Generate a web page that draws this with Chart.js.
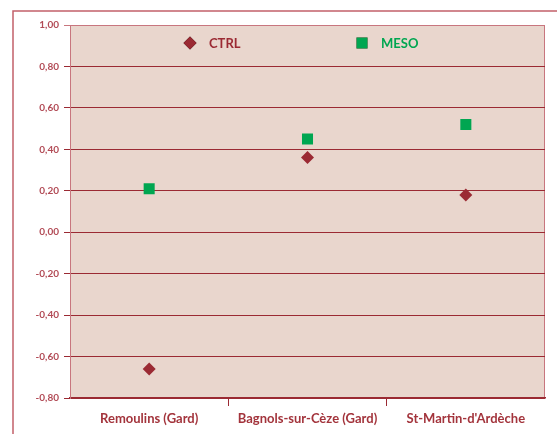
<!DOCTYPE html>
<html>
<head>
<meta charset="utf-8">
<script src="https://cdn.jsdelivr.net/npm/chart.js@4/dist/chart.umd.min.js"></script>
<style>
  html, body { margin: 0; padding: 0; background: #fff; }
  #wrap { width: 557px; height: 434px; }
</style>
</head>
<body>
<div id="wrap"><canvas id="myChart" width="557" height="434"></canvas></div>
<script>
// Data
const sites = ['Remoulins (Gard)', 'Bagnols-sur-Cèze (Gard)', "St-Martin-d'Ardèche"];
const ctrlValues = [-0.66, 0.36, 0.18];
const mesoValues = [0.21, 0.45, 0.52];
const yTicks = [-0.8, -0.6, -0.4, -0.2, 0, 0.2, 0.4, 0.6, 0.8, 1.0];

// Colours
const darkRed = '#9b2a33';
const green = '#00a651';
const plotBg = '#e9d6cd';
const frame = '#c2606a';
const clear = 'rgba(0,0,0,0)';

// Plot background, outer frame and legend inside the plot
const decor = {
    id: 'decor',
    beforeDraw(chart) {
        const ctx = chart.ctx;
        const a = chart.chartArea;
        ctx.save();
        ctx.fillStyle = plotBg;
        ctx.fillRect(a.left, a.top, a.right - a.left, a.bottom - a.top);
        ctx.strokeStyle = frame;
        ctx.lineWidth = 1.5;
        ctx.beginPath();
        ctx.moveTo(13, 440);
        ctx.lineTo(13, 11);
        ctx.lineTo(560, 11);
        ctx.stroke();
        ctx.lineWidth = 1;
        ctx.strokeStyle = '#c8767e';
        ctx.beginPath();
        ctx.moveTo(a.right - 0.5, a.top);
        ctx.lineTo(a.right - 0.5, a.bottom);
        ctx.stroke();
        ctx.restore();
    },
    afterDraw(chart) {
        const ctx = chart.ctx;
        const a = chart.chartArea;
        const y = a.top + 18;
        const items = [
            { ds: 0, x: a.left + 120, color: darkRed },
            { ds: 1, x: a.left + 292, color: green }
        ];
        ctx.save();
        items.forEach(it => {
            const d = chart.data.datasets[it.ds];
            Chart.helpers.drawPoint(ctx, {
                pointStyle: d.pointStyle,
                radius: d.pointRadius,
                rotation: 0,
                borderWidth: 0
            }, it.x, y);
            ctx.fillStyle = it.color;
            ctx.fill();
            ctx.font = 'bold 13px Lato';
            ctx.textBaseline = 'middle';
            ctx.textAlign = 'left';
            ctx.fillText(d.label, it.x + 19, y + 1);
        });
        ctx.restore();
    }
};

const ctx = document.getElementById('myChart').getContext('2d');
new Chart(ctx, {
    type: 'line',
    data: {
        labels: sites,
        datasets: [{
            label: 'CTRL',
            data: ctrlValues,
            showLine: false,
            pointStyle: 'rectRot',
            pointRadius: 6.5,
            pointHoverRadius: 6.5,
            backgroundColor: darkRed,
            borderColor: darkRed,
            pointBorderWidth: 0
        }, {
            label: 'MESO',
            data: mesoValues,
            showLine: false,
            pointStyle: 'rect',
            pointRadius: 7.8,
            pointHoverRadius: 7.8,
            backgroundColor: green,
            borderColor: green,
            pointBorderWidth: 0
        }]
    },
    options: {
        responsive: false,
        animation: false,
        layout: { padding: { left: 0, right: 12, top: 25, bottom: 0 } },
        plugins: {
            legend: { display: false },
            tooltip: { enabled: false }
        },
        scales: {
            x: {
                offset: true,
                afterFit: s => { s.height = 36; },
                grid: {
                    offset: true,
                    drawOnChartArea: false,
                    drawTicks: true,
                    tickLength: 8,
                    color: c => (c.index === 1 || c.index === 2) ? darkRed : clear
                },
                border: { color: darkRed, width: 1.5 },
                ticks: {
                    color: '#a3343c',
                    padding: 5,
                    font: { family: 'Lato', size: 13, weight: 'bold' }
                }
            },
            y: {
                min: -0.8,
                max: 1.0,
                afterFit: s => { s.width = 70; },
                afterBuildTicks: s => { s.ticks = yTicks.map(v => ({ value: v })); },
                grid: {
                    color: c => c.index === yTicks.length - 1 ? '#c8767e' : darkRed,
                    lineWidth: 1,
                    drawTicks: true,
                    tickLength: 6
                },
                border: { color: '#c8767e', width: 1 },
                ticks: {
                    color: '#b24b56',
                    padding: 5,
                    font: { family: 'Lato', size: 10, weight: 'bold' },
                    callback: v => v.toFixed(2).replace('.', ',')
                }
            }
        }
    },
    plugins: [decor]
});
</script>
</body>
</html>
